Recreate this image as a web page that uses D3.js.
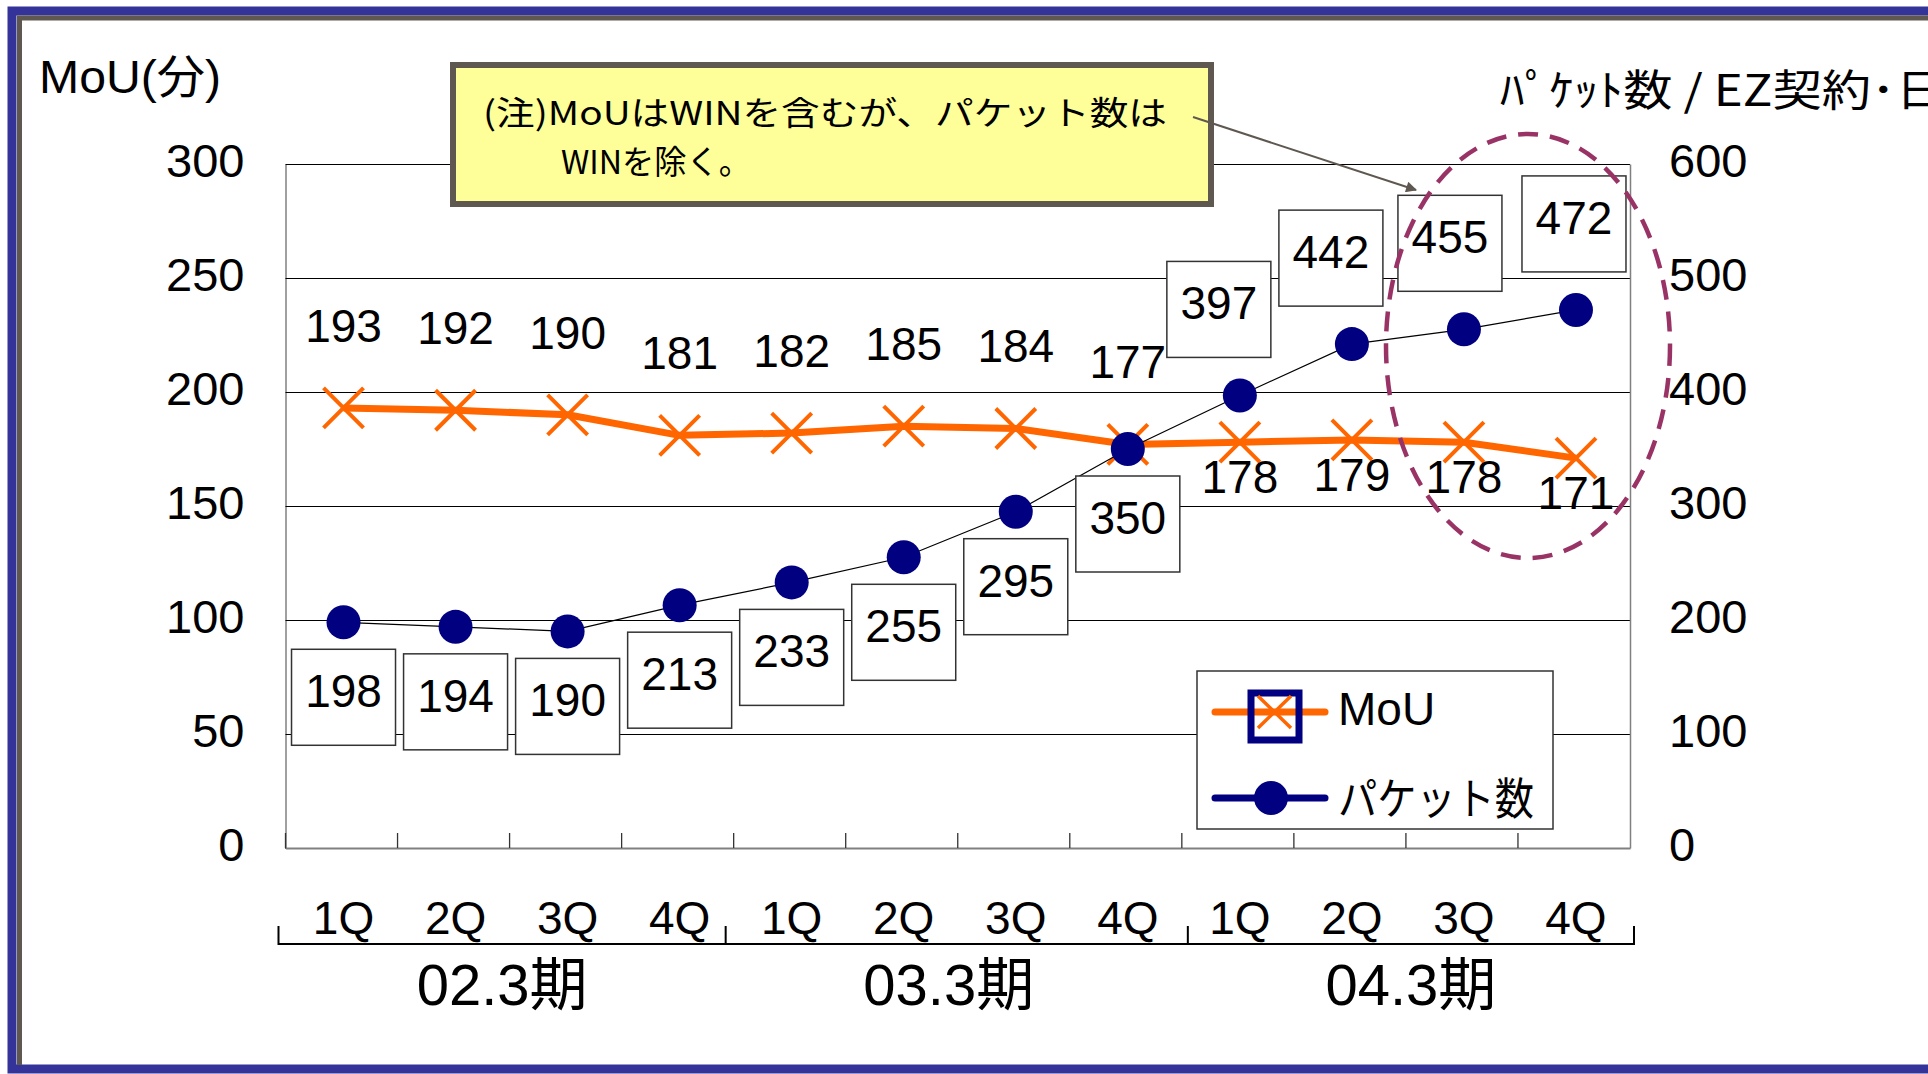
<!DOCTYPE html>
<html lang="ja">
<head>
    <meta charset="utf-8">
    <style>
        body { margin: 0; background: white; }
        svg { display: block; }
        text { font-family: "Liberation Sans", "Noto Sans CJK JP", sans-serif; fill: black; }
        .cjk { font-family: "Noto Sans CJK JP", sans-serif; }
    </style>
    <script src="https://d3js.org/d3.v7.min.js"></script>
</head>
<body>
<svg id="chart" width="1928" height="1074"></svg>
<script>
    // Data
    const quarters = ["1Q", "2Q", "3Q", "4Q", "1Q", "2Q", "3Q", "4Q", "1Q", "2Q", "3Q", "4Q"];
    const periods = ["02.3期", "03.3期", "04.3期"];
    const mou = [193, 192, 190, 181, 182, 185, 184, 177, 178, 179, 178, 171];
    const packets = [198, 194, 190, 213, 233, 255, 295, 350, 397, 442, 455, 472];
    const leftTicks = [0, 50, 100, 150, 200, 250, 300];
    const rightTicks = [0, 100, 200, 300, 400, 500, 600];

    const ORANGE = "#FF6600", NAVY = "#000080", FRAME = "#5F5850";

    const svg = d3.select("#chart");
    const plotLeft = 285.5, plotRight = 1630, plotTop = 164, plotBottom = 848;
    const width = plotRight - plotLeft;

    const x = d3.scaleBand().domain(d3.range(quarters.length)).range([plotLeft, plotRight]);
    const cx = i => x(i) + x.bandwidth() / 2 + 2;
    const yL = d3.scaleLinear().domain([0, 300]).range([plotBottom, plotTop]);
    const yR = d3.scaleLinear().domain([0, 600]).range([plotBottom, plotTop]);

    // slide frame
    svg.append("rect").attr("x", 12).attr("y", 11).attr("width", 2000).attr("height", 1058)
        .attr("fill", "none").attr("stroke", "#333399").attr("stroke-width", 9);
    svg.append("path").attr("d", "M19.5,1065 V18 H1928")
        .attr("fill", "none").attr("stroke", FRAME).attr("stroke-width", 5);

    // left axis with gridlines
    const gL = svg.append("g").attr("transform", `translate(${plotLeft},0)`)
        .call(d3.axisLeft(yL).tickValues(leftTicks).tickSizeInner(-width).tickSizeOuter(0).tickPadding(41));
    gL.select(".domain").attr("stroke", "#808080").attr("stroke-width", 1.5);
    gL.selectAll(".tick line").attr("stroke", "black").attr("stroke-width", 1);
    gL.selectAll(".tick text").attr("font-size", 47).attr("dy", "0.26em")
        .style("font-family", "Liberation Sans");

    // right axis
    const gR = svg.append("g").attr("transform", `translate(${plotRight},0)`)
        .call(d3.axisRight(yR).tickValues(rightTicks).tickSize(0).tickPadding(39));
    gR.select(".domain").attr("stroke", "#808080").attr("stroke-width", 1.5);
    gR.selectAll(".tick text").attr("font-size", 47).attr("dy", "0.26em")
        .style("font-family", "Liberation Sans");

    // bottom axis
    const gB = svg.append("g").attr("transform", `translate(2,${plotBottom})`)
        .call(d3.axisBottom(x).tickSize(0).tickPadding(53).tickFormat(i => quarters[i]));
    gB.select(".domain").attr("stroke", "#808080").attr("stroke-width", 2).attr("transform", "translate(-2,0)");
    gB.selectAll(".tick text").attr("font-size", 46).style("font-family", "Liberation Sans");
    svg.append("g").selectAll("line").data(d3.range(0, quarters.length)).join("line")
        .attr("x1", i => x(i)).attr("x2", i => x(i))
        .attr("y1", plotBottom).attr("y2", plotBottom - 15)
        .attr("stroke", "#333").attr("stroke-width", 1.3);

    // period bracket
    const edges = [x(0) - 7, x(4) - 8, x(8) + 6, plotRight + 4];
    let bd = `M${edges[0]},926 V944 H${edges[3]} V926`;
    [edges[1], edges[2]].forEach(e => { bd += ` M${e},926 V944`; });
    svg.append("path").attr("d", bd).attr("fill", "none").attr("stroke", "black").attr("stroke-width", 2);
    svg.append("g").selectAll("text").data(periods).join("text")
        .attr("x", (d, i) => (edges[i] + edges[i + 1]) / 2 + (i === 1 ? -8 : 0))
        .attr("y", 1005).attr("text-anchor", "middle").attr("font-size", 58)
        .text(d => d);

    // axis titles
    svg.append("text").attr("x", 39).attr("y", 93).attr("font-size", 46)
        .attr("textLength", 182).attr("lengthAdjust", "spacingAndGlyphs").text("MoU(分)");
    svg.append("text").attr("class", "cjk").attr("x", 1500).attr("y", 106).attr("font-size", 43)
        .attr("textLength", 445).attr("lengthAdjust", "spacingAndGlyphs").text("ﾊﾟｹｯﾄ数 / EZ契約･日");

    // MoU series
    const lineL = d3.line().x((d, i) => cx(i)).y(d => yL(d));
    svg.append("path").datum(mou).attr("d", lineL).attr("fill", "none")
        .attr("stroke", ORANGE).attr("stroke-width", 7).attr("stroke-linejoin", "round");
    const s = 20;
    svg.append("g").selectAll("path").data(mou).join("path")
        .attr("d", (d, i) => {
            const px = cx(i), py = yL(d);
            return `M${px - s},${py - s}L${px + s},${py + s}M${px - s},${py + s}L${px + s},${py - s}`;
        })
        .attr("stroke", ORANGE).attr("stroke-width", 4).attr("fill", "none");

    // packet series
    const lineR = d3.line().x((d, i) => cx(i)).y(d => yR(d));
    svg.append("path").datum(packets).attr("d", lineR).attr("fill", "none")
        .attr("stroke", "black").attr("stroke-width", 1.2);
    svg.append("g").selectAll("circle").data(packets).join("circle")
        .attr("cx", (d, i) => cx(i)).attr("cy", d => yR(d)).attr("r", 17).attr("fill", NAVY);

    // MoU labels (above for first 8, below for rest)
    svg.append("g").selectAll("text").data(mou).join("text")
        .attr("x", (d, i) => cx(i))
        .attr("y", (d, i) => i < 8 ? yL(d) - 66 : yL(d) + 51)
        .attr("text-anchor", "middle").attr("font-size", 46)
        .text(d => d);

    // packet labels in boxes (below for first 8, above and nudged left for the rest)
    const bw = 104, bh = 96;
    const aboveShift = [-21, -21, -14, -2];
    const boxes = packets.map((d, i) => {
        const px = cx(i), py = yR(d);
        if (i < 8) return { v: d, cx: px, top: py + 27 };
        return { v: d, cx: px + aboveShift[i - 8], top: py - 38 - bh };
    });
    const gBox = svg.append("g").selectAll("g").data(boxes).join("g");
    gBox.append("rect").attr("x", b => b.cx - bw / 2).attr("y", b => b.top)
        .attr("width", bw).attr("height", bh)
        .attr("fill", "white").attr("stroke", "#333").attr("stroke-width", 1.5);
    gBox.append("text").attr("x", b => b.cx).attr("y", b => b.top + 58)
        .attr("text-anchor", "middle").attr("font-size", 46).text(b => b.v);

    // legend
    const lg = svg.append("g");
    lg.append("rect").attr("x", 1197).attr("y", 671).attr("width", 356).attr("height", 158)
        .attr("fill", "white").attr("stroke", "#333").attr("stroke-width", 1.5);
    lg.append("line").attr("x1", 1215).attr("x2", 1325).attr("y1", 712).attr("y2", 712)
        .attr("stroke", ORANGE).attr("stroke-width", 7).attr("stroke-linecap", "round");
    lg.append("rect").attr("x", 1251).attr("y", 693).attr("width", 48).attr("height", 47)
        .attr("fill", "none").attr("stroke", NAVY).attr("stroke-width", 7);
    lg.append("path").attr("d", "M1254,696L1287,728M1254,728L1287,696")
        .attr("stroke", ORANGE).attr("stroke-width", 3.5).attr("transform", "translate(4,0)");
    lg.append("text").attr("x", 1338).attr("y", 725).attr("font-size", 46).text("MoU");
    lg.append("line").attr("x1", 1215).attr("x2", 1325).attr("y1", 798).attr("y2", 798)
        .attr("stroke", NAVY).attr("stroke-width", 7).attr("stroke-linecap", "round");
    lg.append("circle").attr("cx", 1271).attr("cy", 798).attr("r", 17).attr("fill", NAVY);
    lg.append("text").attr("class", "cjk").attr("x", 1338).attr("y", 815).attr("font-size", 44)
        .attr("textLength", 196).attr("lengthAdjust", "spacingAndGlyphs").text("パケット数");

    // note box
    svg.append("rect").attr("x", 453).attr("y", 65).attr("width", 758).attr("height", 139)
        .attr("fill", "#FFFF99").attr("stroke", FRAME).attr("stroke-width", 6);
    svg.append("text").attr("class", "cjk").attr("x", 483).attr("y", 125).attr("font-size", 33)
        .attr("textLength", 684).attr("lengthAdjust", "spacingAndGlyphs")
        .text("(注)MoUはWINを含むが、パケット数は");
    svg.append("text").attr("class", "cjk").attr("x", 561).attr("y", 174).attr("font-size", 33)
        .attr("textLength", 190).attr("lengthAdjust", "spacingAndGlyphs")
        .text("WINを除く。");

    // arrow
    svg.append("defs").append("marker").attr("id", "arr")
        .attr("viewBox", "0 0 10 10").attr("refX", 9).attr("refY", 5)
        .attr("markerWidth", 14).attr("markerHeight", 11).attr("markerUnits", "userSpaceOnUse")
        .attr("orient", "auto")
        .append("path").attr("d", "M0,0L10,5L0,10z").attr("fill", FRAME);
    svg.append("line").attr("x1", 1193).attr("y1", 117).attr("x2", 1416).attr("y2", 190)
        .attr("stroke", FRAME).attr("stroke-width", 2).attr("marker-end", "url(#arr)");

    // dashed ellipse highlight
    svg.append("ellipse").attr("cx", 1528).attr("cy", 346).attr("rx", 142).attr("ry", 212)
        .attr("fill", "none").attr("stroke", "#993366").attr("stroke-width", 4.5)
        .attr("stroke-dasharray", "20,12");
</script>
</body>
</html>
